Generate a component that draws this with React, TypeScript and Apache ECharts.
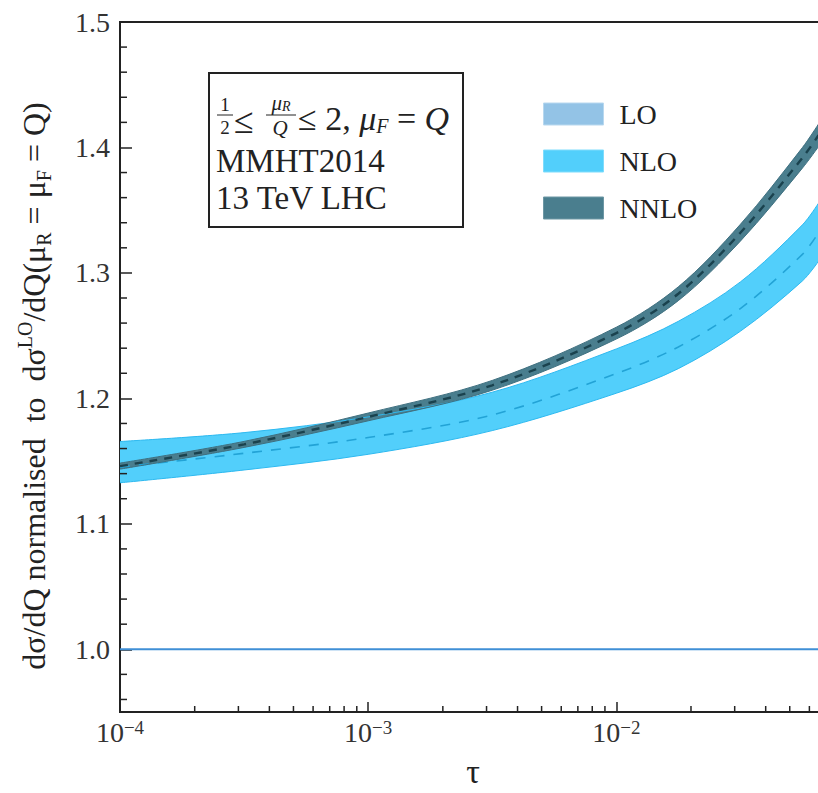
import React, { useEffect, useRef } from "react";
import * as echarts from "echarts";

// tau values (x) at which the curves were read
const tau = [1e-4, 3.162e-4, 1e-3, 3.162e-3, 1e-2, 1.778e-2, 3.162e-2, 5.623e-2, 6.53e-2];

const nloUpper = [1.1656, 1.1727, 1.1852, 1.2049, 1.2394, 1.2614, 1.2928, 1.3383, 1.3556];
const nloLower = [1.1327, 1.1429, 1.1554, 1.1743, 1.2041, 1.2237, 1.2535, 1.2936, 1.3093];
const nloCentral = [1.1452, 1.1562, 1.1688, 1.1868, 1.2198, 1.241, 1.2716, 1.3148, 1.332];

const nnloUpper = [1.1484, 1.1657, 1.1883, 1.2143, 1.2567, 1.2889, 1.3387, 1.3999, 1.4187];
const nnloLower = [1.1436, 1.1609, 1.1821, 1.2065, 1.2473, 1.2779, 1.3253, 1.3835, 1.4007];
const nnloCentral = [1.146, 1.1633, 1.1852, 1.2104, 1.252, 1.2834, 1.332, 1.3917, 1.4097];

const loX = [1e-4, 7e-2];
const loY = [1.0, 1.0];

const xMinorTicks = [
  2e-4, 3e-4, 4e-4, 5e-4, 6e-4, 7e-4, 8e-4, 9e-4,
  2e-3, 3e-3, 4e-3, 5e-3, 6e-3, 7e-3, 8e-3, 9e-3,
  2e-2, 3e-2, 4e-2, 5e-2, 6e-2,
];
const yMinorTicks = [
  0.96, 0.98, 1.02, 1.04, 1.06, 1.08, 1.12, 1.14, 1.16, 1.18, 1.22, 1.24, 1.26, 1.28,
  1.32, 1.34, 1.36, 1.38, 1.42, 1.44, 1.46, 1.48,
];
const legendNames = ["LO", "NLO", "NNLO"];

const X_MIN = 1e-4;
const X_MAX = 7e-2;
const Y_MIN = 0.95;
const Y_MAX = 1.5;

const FONT = "Liberation Serif";
const TXT = "#222";

const C_LO_LINE = "#3f8fd6";
const C_LO_PATCH = "#93c3e6";
const C_NLO = "#52cffb";
const C_NLO_EDGE = "#2db9f0";
const C_NLO_DASH = "#22a3d6";
const C_NNLO = "#4a7e8e";
const C_NNLO_EDGE = "#3f7080";
const C_NNLO_DASH = "#1a424e";

const SMOOTH = 0.33;

const pairs = (xs: number[], ys: number[]) => xs.map((x, i) => [x, ys[i]]);
// rows as [y, x] so that the stacked dimension is y (see encode below)
const yxRows = (xs: number[], ys: number[]) => xs.map((x, i) => [ys[i], x]);
const yxDiffs = (xs: number[], up: number[], lo: number[]) =>
  xs.map((x, i) => [+(up[i] - lo[i]).toFixed(5), x]);

export default function App() {
  const ref = useRef<HTMLDivElement>(null);
  useEffect(() => {
    if (!ref.current) return;
    const chart = echarts.init(ref.current, null, { renderer: "svg" });

    const tickRender = (dir: "x" | "y", len: number) => (params: any, api: any) => {
      const p = api.coord([api.value(0), api.value(1)]);
      return {
        type: "line",
        shape: dir === "x"
          ? { x1: p[0], y1: p[1], x2: p[0], y2: p[1] - len }
          : { x1: p[0], y1: p[1], x2: p[0] + len, y2: p[1] },
        style: { stroke: TXT, lineWidth: 1.5 },
        silent: true,
      };
    };

    const bandPart = (name: string, stack: string, data: number[][], edge: string, fill: string | null) => ({
      name,
      type: "line",
      stack,
      data,
      encode: { x: 1, y: 0 },
      smooth: SMOOTH,
      showSymbol: false,
      lineStyle: { color: edge, width: 1 },
      itemStyle: { color: fill || edge },
      ...(fill ? { areaStyle: { color: fill, opacity: 1 } } : {}),
    });

    const option: any = {
      animation: false,
      backgroundColor: "#fff",
      grid: { left: 120, right: 10, top: 22, bottom: 71, show: true, borderColor: TXT, borderWidth: 2 },
      xAxis: {
        type: "log",
        logBase: 10,
        min: X_MIN,
        max: X_MAX,
        name: "τ",
        nameLocation: "middle",
        nameGap: 42,
        nameTextStyle: { fontFamily: FONT, fontSize: 34, color: TXT },
        axisLine: { show: true, lineStyle: { color: TXT, width: 2 } },
        axisTick: { show: true, inside: true, length: 10, lineStyle: { color: TXT, width: 1.5 } },
        splitLine: { show: false },
        axisLabel: {
          margin: 6,
          formatter: (v: number) => {
            const l = Math.log10(v);
            const e = Math.round(l);
            if (Math.abs(l - e) > 1e-6) return "";
            return `{b|10}{s|\u2212${-e}}`;
          },
          rich: {
            b: { fontFamily: FONT, fontSize: 28, color: "#333" },
            s: { fontFamily: FONT, fontSize: 19, color: "#333", verticalAlign: "top" },
          },
        },
      },
      yAxis: {
        type: "value",
        min: Y_MIN,
        max: Y_MAX,
        splitNumber: 5,
        axisLine: { show: true, lineStyle: { color: TXT, width: 2 } },
        axisTick: { show: true, inside: true, length: 12, lineStyle: { color: TXT, width: 1.5 } },
        splitLine: { show: false },
        axisLabel: {
          margin: 10,
          fontFamily: FONT,
          fontSize: 28,
          color: "#333",
          formatter: (v: number) => (Math.abs(v * 10 - Math.round(v * 10)) < 1e-6 ? v.toFixed(1) : ""),
        },
      },
      legend: {
        show: true,
        orient: "vertical",
        left: 538,
        top: 95,
        icon: "rect",
        itemWidth: 60,
        itemHeight: 22,
        itemGap: 19,
        textStyle: { fontFamily: FONT, fontSize: 28, color: TXT, padding: [0, 0, 0, 11] },
        data: [
          { name: legendNames[0], itemStyle: { color: C_LO_PATCH, borderColor: "#b8d8ef", borderWidth: 1 } },
          { name: legendNames[1], itemStyle: { color: C_NLO, borderColor: "#7fdcfc", borderWidth: 1 } },
          { name: legendNames[2], itemStyle: { color: C_NNLO, borderColor: "#6d97a4", borderWidth: 1 } },
        ],
      },
      series: [
        bandPart("NLO", "nlo", yxRows(tau, nloLower), C_NLO_EDGE, null),
        bandPart("NLO", "nlo", yxDiffs(tau, nloUpper, nloLower), C_NLO_EDGE, C_NLO),
        {
          name: "NLO central",
          type: "line",
          data: pairs(tau, nloCentral),
          smooth: SMOOTH,
          showSymbol: false,
          lineStyle: { color: C_NLO_DASH, width: 1.6, type: [10, 9] },
        },
        bandPart("NNLO", "nnlo", yxRows(tau, nnloLower), C_NNLO_EDGE, null),
        bandPart("NNLO", "nnlo", yxDiffs(tau, nnloUpper, nnloLower), C_NNLO_EDGE, C_NNLO),
        {
          name: "NNLO central",
          type: "line",
          data: pairs(tau, nnloCentral),
          smooth: SMOOTH,
          showSymbol: false,
          lineStyle: { color: C_NNLO_DASH, width: 2.4, type: [8, 7] },
        },
        {
          name: "LO",
          type: "line",
          data: pairs(loX, loY),
          showSymbol: false,
          lineStyle: { color: C_LO_LINE, width: 2 },
          itemStyle: { color: C_LO_PATCH },
        },
        {
          name: "xminor",
          type: "custom",
          data: xMinorTicks.map((v) => [v, Y_MIN]),
          renderItem: tickRender("x", 6),
          silent: true,
          z: 10,
        },
        {
          name: "yminor",
          type: "custom",
          data: yMinorTicks.map((v) => [X_MIN, v]),
          renderItem: tickRender("y", 7),
          silent: true,
          z: 10,
        },
      ],
      graphic: [
        {
          type: "text",
          x: 34,
          y: 386,
          rotation: Math.PI / 2,
          style: {
            text: "dσ/dQ normalised  to  dσ{sup|LO}/dQ(μ{sub|R} = μ{sub|F} = Q)",
            fontFamily: FONT,
            fontSize: 32,
            fill: TXT,
            align: "center",
            verticalAlign: "middle",
            lineHeight: 39,
            rich: {
              sup: { fontFamily: FONT, fontSize: 20, fill: TXT, verticalAlign: "top", lineHeight: 20 },
              sub: { fontFamily: FONT, fontSize: 20, fill: TXT, verticalAlign: "bottom", lineHeight: 20 },
            },
          },
        },
        {
          type: "rect",
          shape: { x: 209, y: 73, width: 254, height: 154 },
          style: { fill: "#fff", stroke: TXT, lineWidth: 2 },
          z: 50,
        },
        {
          type: "text", x: 225, y: 104, z: 51,
          style: { text: "1", fontFamily: FONT, fontSize: 19, fill: TXT, align: "center", verticalAlign: "middle" },
        },
        { type: "line", shape: { x1: 217, y1: 115, x2: 233, y2: 115 }, style: { stroke: TXT, lineWidth: 1 }, z: 51 },
        {
          type: "text", x: 225, y: 127, z: 51,
          style: { text: "2", fontFamily: FONT, fontSize: 19, fill: TXT, align: "center", verticalAlign: "middle" },
        },
        {
          type: "text", x: 234, y: 121, z: 51,
          style: { text: "≤", fontFamily: FONT, fontSize: 36, fill: TXT, align: "left", verticalAlign: "middle" },
        },
        {
          type: "text", x: 281, y: 103, z: 51,
          style: {
            text: "μ{s|R}",
            fontFamily: FONT, fontStyle: "italic", fontSize: 21, fill: TXT, align: "center", verticalAlign: "middle",
            rich: { s: { fontFamily: FONT, fontStyle: "italic", fontSize: 14, fill: TXT, verticalAlign: "bottom" } },
          },
        },
        { type: "line", shape: { x1: 266, y1: 115, x2: 296, y2: 115 }, style: { stroke: TXT, lineWidth: 1 }, z: 51 },
        {
          type: "text", x: 280, y: 128, z: 51,
          style: { text: "Q", fontFamily: FONT, fontStyle: "italic", fontSize: 21, fill: TXT, align: "center", verticalAlign: "middle" },
        },
        {
          type: "text", x: 298, y: 118, z: 51,
          style: {
            text: "≤ 2, {i|μ}{s|F} = {i|Q}",
            fontFamily: FONT, fontSize: 34, fill: TXT, align: "left", verticalAlign: "middle", lineHeight: 36,
            rich: {
              i: { fontFamily: FONT, fontStyle: "italic", fontSize: 34, fill: TXT },
              s: { fontFamily: FONT, fontStyle: "italic", fontSize: 20, fill: TXT, verticalAlign: "bottom", lineHeight: 20 },
            },
          },
        },
        {
          type: "text", x: 216, y: 161, z: 51,
          style: { text: "MMHT2014", fontFamily: FONT, fontSize: 33, fill: TXT, align: "left", verticalAlign: "middle" },
        },
        {
          type: "text", x: 216, y: 198, z: 51,
          style: { text: "13 TeV LHC", fontFamily: FONT, fontSize: 33, fill: TXT, align: "left", verticalAlign: "middle" },
        },
      ],
    };
    chart.setOption(option);
    return () => chart.dispose();
  }, []);

  return (
    <div
      ref={ref}
      style={{ position: "fixed", left: 0, top: 0, width: 836, height: 793, background: "#fff" }}
    />
  );
}
